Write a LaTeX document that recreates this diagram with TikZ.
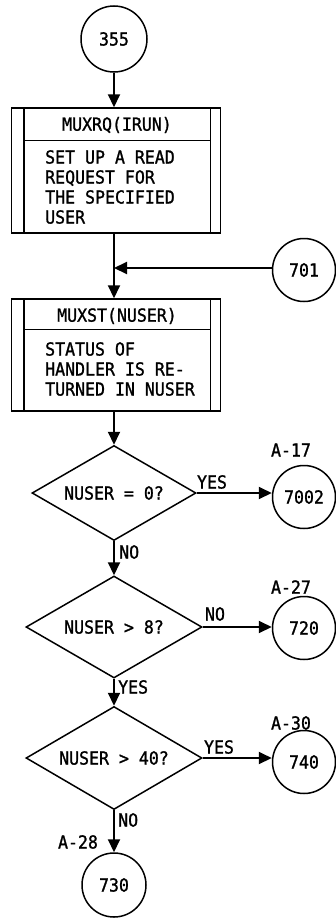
\documentclass[tikz,border=0pt]{standalone}
\usepackage{fontspec}
\setmonofont[FakeStretch=0.92,FakeBold=1.2]{DejaVu Sans Mono}
\usetikzlibrary{shapes.geometric,arrows.meta}
\begin{document}
\begin{tikzpicture}[x=1pt,y=-1pt,
  every node/.style={font=\ttfamily\fontsize{18}{20}\selectfont, inner sep=0pt},
  shapeline/.style={draw, line width=1.5pt},
  conncircle/.style={circle, shapeline, minimum size=63pt},
  procbox/.style={rectangle, shapeline, minimum width=209pt},
  decision/.style={diamond, shapeline, shape aspect=1.75},
  conn/.style={line width=2pt, -{Triangle[length=13pt,width=12pt]}},
  bar/.style={line width=1.5pt},
  lbl/.style={}
]
\useasboundingbox (0,0) rectangle (336,918);

% start connector
\node[conncircle, minimum size=66pt] (c355) at (114,39) {355};

% box 1
\node[procbox, minimum height=125pt] (b1) at (116,170.5) {};
\draw[bar] ([xshift=13pt]b1.north west) -- ([xshift=13pt]b1.south west);
\draw[bar] ([xshift=-11pt]b1.north east) -- ([xshift=-11pt]b1.south east);
\draw[bar] ([xshift=13pt,yshift=-33pt]b1.north west) -- ([xshift=-11pt,yshift=-33pt]b1.north east);
\node (h1) at (117,125) {MUXRQ(IRUN)};
\node[align=left, anchor=north west] (t1) at (45,150) {SET UP A READ\\REQUEST FOR\\THE SPECIFIED\\USER};

% join from 701
\coordinate (join) at (114,268);
\node[conncircle] (c701) at (304,270) {701};

% box 2
\node[procbox, minimum height=112pt] (b2) at (116,355) {};
\draw[bar] ([xshift=13pt]b2.north west) -- ([xshift=13pt]b2.south west);
\draw[bar] ([xshift=-11pt]b2.north east) -- ([xshift=-11pt]b2.south east);
\draw[bar] ([xshift=13pt,yshift=-31pt]b2.north west) -- ([xshift=-11pt,yshift=-31pt]b2.north east);
\node (h2) at (117,316) {MUXST(NUSER)};
\node[align=left, anchor=north west] (t2) at (45,342) {STATUS OF\\HANDLER IS RE-\\TURNED IN NUSER};

% decisions
\node[decision, minimum width=164pt, minimum height=95pt] (d1) at (114,493) {NUSER = 0?};
\node[decision, minimum width=176pt, minimum height=102pt] (d2) at (114,627) {NUSER > 8?};
\node[decision, minimum width=176pt, minimum height=103pt] (d3) at (114,758) {NUSER > 40?};

% off-page connectors
\node[conncircle] (c7002) at (304,497) {7002};
\node[conncircle] (c720) at (304,628) {720};
\node[conncircle] (c740) at (304,762) {740};
\node[conncircle, minimum size=64pt] (c730) at (114,885) {730};

% page references
\node[lbl] (r17) at (291,450) {A-17};
\node[lbl] (r27) at (291,587) {A-27};
\node[lbl] (r30) at (291,723) {A-30};
\node[lbl] (r28) at (78,842) {A-28};

% connectors
\draw[conn] (c355.south) -- (b1.north -| c355.south);
\draw[conn] (b1.south -| join) -- (b2.north -| join);
\draw[conn] (c701.west |- join) -- (join);
\draw[conn] (b2.south -| d1.north) -- (d1.north);
\draw[conn] (d1.east) -- (c7002.west |- d1.east);
\draw[conn] (d1.south) -- (d2.north);
\draw[conn] (d2.east) -- (c720.west |- d2.east);
\draw[conn] (d2.south) -- (d3.north);
\draw[conn] (d3.east) -- (c740.west |- d3.east);
\draw[conn] (d3.south) -- (c730.north);

% branch labels
\node[lbl] (y1) at (212,482) {YES};
\node[lbl, anchor=west] (n1) at (119,552) {NO};
\node[lbl] (n2) at (215,614) {NO};
\node[lbl, anchor=west] (y2) at (118,687) {YES};
\node[lbl] (y3) at (219,747) {YES};
\node[lbl, anchor=west] (n3) at (118,820) {NO};
\end{tikzpicture}
\end{document}
